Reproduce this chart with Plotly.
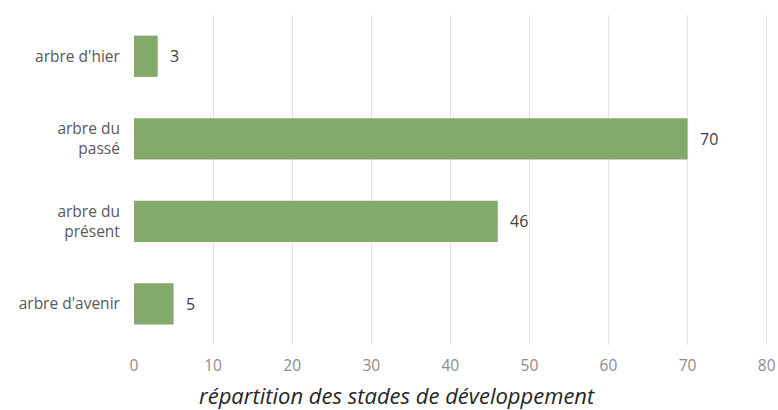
import plotly.graph_objects as go

# Répartition des arbres par stade de développement
categories = ["arbre d'hier", "arbre du<br>passé", "arbre du<br>présent", "arbre d'avenir"]
counts = [3, 70, 46, 5]
x_ticks = [0, 10, 20, 30, 40, 50, 60, 70, 80]

BAR_COLOR = "#84aa6b"
FONT = "Open Sans"

fig = go.Figure(
    go.Bar(
        x=counts,
        y=categories,
        orientation="h",
        marker=dict(color=BAR_COLOR, line=dict(width=0)),
        width=0.5,
        hoverinfo="x+y",
    )
)

# valeurs affichées à droite des barres
for cat, val in zip(categories, counts):
    fig.add_annotation(
        x=val, y=cat, xref="x", yref="y",
        text=str(val), showarrow=False,
        xanchor="left", xshift=10,
        font=dict(family=FONT, size=16, color="#404040"),
    )

# titre de l'axe horizontal
fig.add_annotation(
    text="répartition des stades de développement",
    xref="paper", yref="paper", x=0.414, y=-0.152,
    xanchor="center", yanchor="middle", showarrow=False,
    font=dict(family=FONT, size=22, color="#262626", style="italic"),
)

fig.update_layout(
    width=778, height=410,
    margin=dict(l=134, r=9, t=15, b=65),
    paper_bgcolor="white", plot_bgcolor="white",
    showlegend=False,
    font=dict(family=FONT),
)

fig.update_xaxes(
    range=[0, 80.3], tickvals=x_ticks,
    showgrid=True, gridcolor="#e3e3e3", gridwidth=1,
    zeroline=False, showline=False, automargin=False,
    ticks="outside", ticklen=6, tickcolor="rgba(0,0,0,0)",
    tickfont=dict(family=FONT, size=15.5, color="#8c8c8c"),
    fixedrange=True,
)
fig.update_yaxes(
    categoryorder="array", categoryarray=categories[::-1],
    showgrid=False, zeroline=False, showline=False, automargin=False,
    ticks="outside", ticklen=10, tickcolor="rgba(0,0,0,0)",
    tickfont=dict(family=FONT, size=15.5, color="#595959"),
    fixedrange=True,
)

fig.write_html("out.html")
